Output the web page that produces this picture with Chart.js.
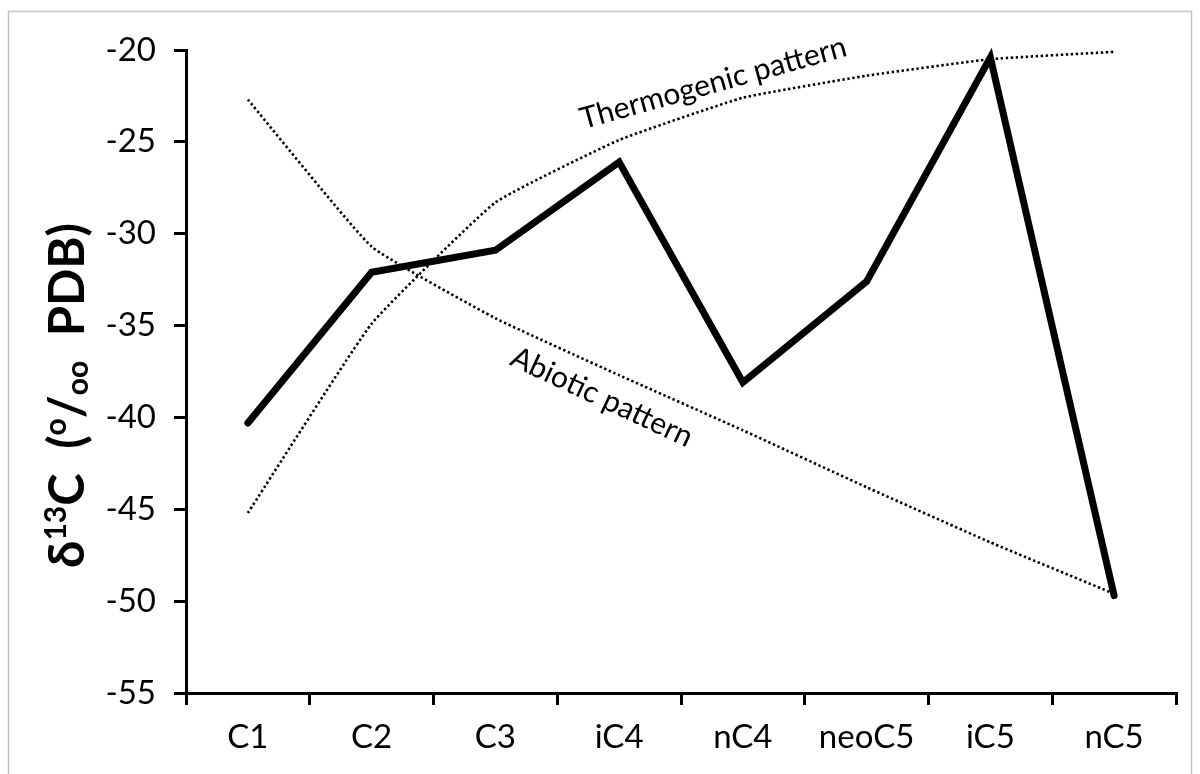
<!DOCTYPE html>
<html>
<head>
<meta charset="utf-8">
<script src="https://cdn.jsdelivr.net/npm/chart.js@4.4.1/dist/chart.umd.min.js"></script>
<style>
  html, body { margin: 0; padding: 0; background: #ffffff; }
  #wrap { position: relative; width: 1200px; height: 774px; }
</style>
</head>
<body>
<div id="wrap"><canvas id="c" width="1200" height="774"></canvas></div>
<script>
// Hydrocarbon components along the x axis
const categories = ['C1', 'C2', 'C3', 'iC4', 'nC4', 'neoC5', 'iC5', 'nC5'];
// Measured δ13C values (‰ PDB)
const measured = [-40.3, -32.1, -30.9, -26.1, -38.1, -32.6, -20.4, -49.7];
// Reference trends
const thermogenic = [-45.2, -34.9, -28.3, -24.9, -22.6, -21.4, -20.5, -20.1];
const abiotic = [-22.7, -30.7, -34.6, -37.7, -40.7, -43.8, -46.8, -49.6];
// Value axis
const yMin = -55, yMax = -20, yStep = 5;

const FONT = 'Lato, "Open Sans", "Liberation Sans", sans-serif';

// Curve labels, anchored in data space (category index, value)
const curveNotes = [
  { text: 'Thermogenic pattern', idx: 3.76, val: -21.8, angle: -15.5 },
  { text: 'Abiotic pattern', idx: 2.86, val: -38.9, angle: 25 }
];

// Frame around the figure, curve labels and the rotated y-axis title
const decorations = {
  id: 'decorations',
  beforeDraw(chart) {
    const ctx = chart.ctx;
    ctx.save();
    ctx.strokeStyle = '#c4c4c4';
    ctx.lineWidth = 1.5;
    ctx.strokeRect(8.5, 11.5, 1183, 800);
    ctx.restore();
  },
  afterDraw(chart) {
    const ctx = chart.ctx;
    const xs = chart.scales.x, ys = chart.scales.y;
    ctx.save();
    ctx.fillStyle = '#000';
    ctx.font = '30px ' + FONT;
    ctx.textAlign = 'center';
    ctx.textBaseline = 'middle';
    curveNotes.forEach(n => {
      const px = xs.getPixelForValue(n.idx);
      const py = ys.getPixelForValue(n.val);
      ctx.save();
      ctx.translate(px, py);
      ctx.rotate(n.angle * Math.PI / 180);
      ctx.fillText(n.text, 0, 0);
      ctx.restore();
    });
    ctx.restore();

    // y-axis title: δ13C (o/oo PDB) with super/subscripts
    const size = 49;
    const parts = [
      { t: 'δ', s: 1, dy: 0, gap: 0 },
      { t: '13', s: 0.62, dy: -0.36, gap: 0 },
      { t: 'C', s: 1, dy: 0, gap: 0.5 },
      { t: '(', s: 1, dy: 0, gap: 0 },
      { t: 'o', s: 0.62, dy: -0.36, gap: 0 },
      { t: '/', s: 1, dy: 0, gap: 0 },
      { t: 'oo', s: 0.62, dy: 0.08, gap: 0.5 },
      { t: 'PDB)', s: 1, dy: 0, gap: 0 }
    ];
    ctx.save();
    let total = 0;
    parts.forEach(p => {
      ctx.font = 'bold ' + Math.round(size * p.s) + 'px ' + FONT;
      p.w = ctx.measureText(p.t).width + p.gap * size;
      total += p.w;
    });
    const cy = (ys.getPixelForValue(yMax) + ys.getPixelForValue(yMin)) / 2 + 24;
    ctx.translate(84, cy);
    ctx.rotate(-Math.PI / 2);
    ctx.textAlign = 'left';
    ctx.textBaseline = 'alphabetic';
    let x = -total / 2;
    parts.forEach(p => {
      ctx.font = 'bold ' + Math.round(size * p.s) + 'px ' + FONT;
      ctx.fillText(p.t, x, p.dy * size);
      x += p.w;
    });
    ctx.restore();
  }
};

new Chart(document.getElementById('c'), {
  type: 'line',
  data: {
    labels: categories,
    datasets: [
      {
        label: 'Measured',
        data: measured,
        borderColor: '#000',
        borderWidth: 7,
        borderCapStyle: 'round',
        borderJoinStyle: 'miter',
        pointRadius: 0,
        tension: 0,
        clip: false,
        order: 0
      },
      {
        label: 'Thermogenic pattern',
        data: thermogenic,
        borderColor: '#000',
        borderWidth: 2.6,
        borderDash: [2.4, 2.6],
        pointRadius: 0,
        tension: 0.12,
        clip: false,
        order: 1
      },
      {
        label: 'Abiotic pattern',
        data: abiotic,
        borderColor: '#000',
        borderWidth: 2.6,
        borderDash: [2.4, 2.6],
        pointRadius: 0,
        tension: 0.12,
        clip: false,
        order: 1
      }
    ]
  },
  options: {
    responsive: false,
    animation: false,
    events: [],
    layout: { padding: { top: 50, right: 24, bottom: 0, left: 0 } },
    plugins: {
      legend: { display: false },
      tooltip: { enabled: false },
      title: { display: false }
    },
    scales: {
      x: {
        type: 'category',
        offset: true,
        afterFit(scale) { scale.height = 81; },
        border: { display: true, color: '#000', width: 3 },
        grid: {
          display: true,
          offset: true,
          drawOnChartArea: false,
          drawTicks: true,
          tickLength: 12,
          color: '#000',
          lineWidth: 3
        },
        ticks: {
          color: '#000',
          font: { family: FONT, size: 33 },
          padding: 13,
          maxRotation: 0,
          autoSkip: false
        }
      },
      y: {
        type: 'linear',
        min: yMin,
        max: yMax,
        afterFit(scale) { scale.width = 186; },
        border: { display: true, color: '#000', width: 3 },
        grid: {
          display: true,
          drawOnChartArea: false,
          drawTicks: true,
          tickLength: 12,
          color: '#000',
          lineWidth: 3
        },
        ticks: {
          stepSize: yStep,
          color: '#000',
          font: { family: FONT, size: 33 },
          padding: 18
        }
      }
    }
  },
  plugins: [decorations]
});
</script>
</body>
</html>
